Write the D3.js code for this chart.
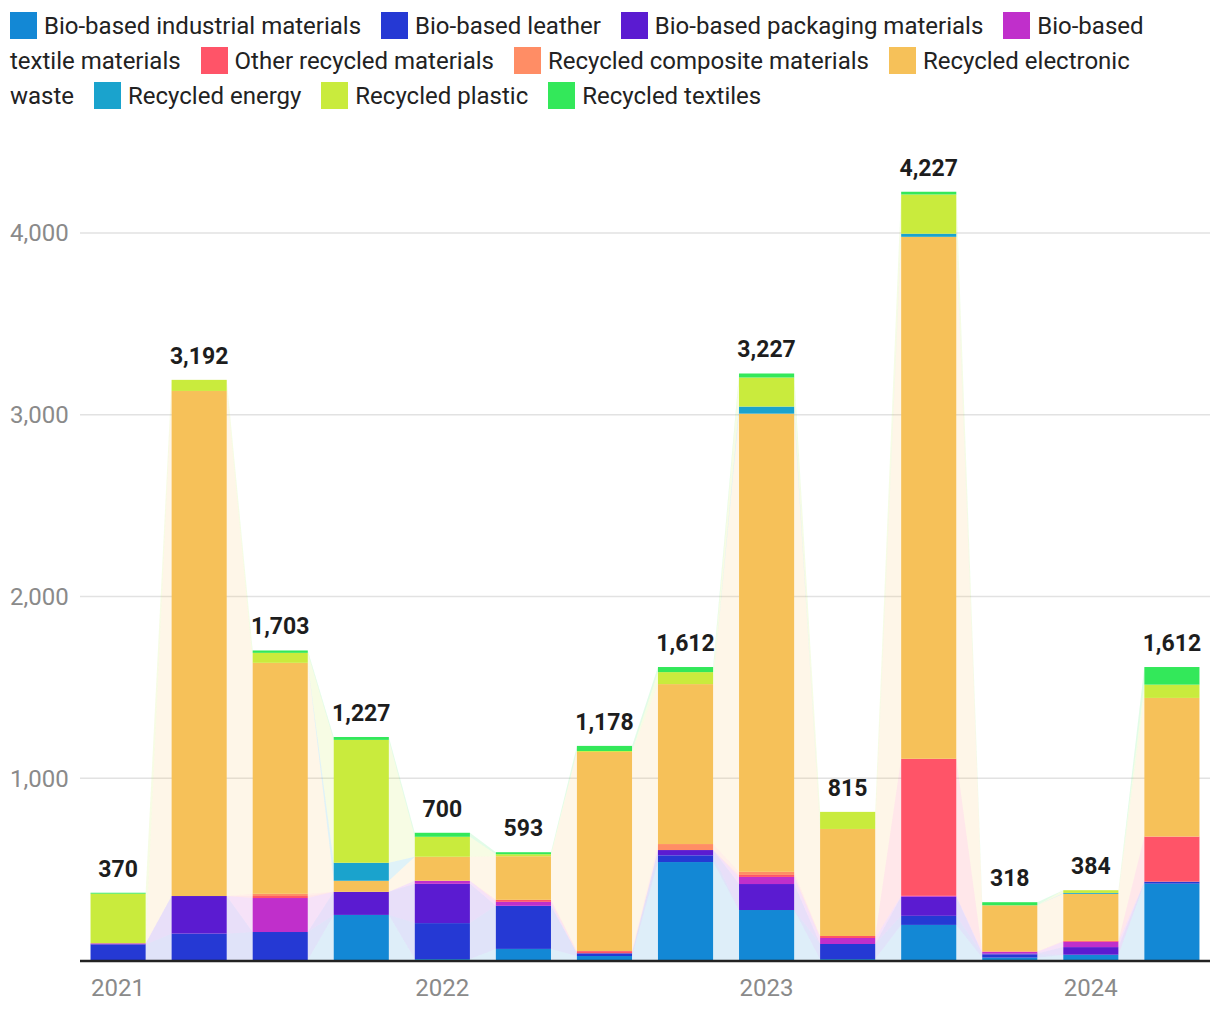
<!DOCTYPE html>
<html>
<head>
<meta charset="utf-8">
<script src="https://cdn.jsdelivr.net/npm/d3@7"></script>
<style>
  html, body { margin: 0; padding: 0; background: #fff; }
  body { width: 1220px; height: 1018px; position: relative; overflow: hidden; font-family: Roboto, "Noto Sans", sans-serif; }
  #legend { position: absolute; left: 10px; top: 9px; width: 1180px; font-size: 24px; line-height: 35px; color: #222; }
  #legend .item { margin-right: 14px; }
  #legend .lead { white-space: nowrap; }
  #legend .sw { display: inline-block; width: 27px; height: 27px; vertical-align: -5px; margin-right: 7px; }
  svg { position: absolute; left: 0; top: 0; }
</style>
</head>
<body>
<div id="legend"></div>
<svg id="chart" width="1220" height="1018"></svg>
<script>
const periods = ["2021 Q1","2021 Q2","2021 Q3","2021 Q4","2022 Q1","2022 Q2","2022 Q3","2022 Q4","2023 Q1","2023 Q2","2023 Q3","2023 Q4","2024 Q1","2024 Q2"];
const periodLabels = ["2021","","","","2022","","","","2023","","","","2024",""];
const seriesNames = ["Bio-based industrial materials","Bio-based leather","Bio-based packaging materials","Bio-based textile materials","Other recycled materials","Recycled composite materials","Recycled electronic waste","Recycled energy","Recycled plastic","Recycled textiles"];
const seriesColors = ["#1388d5","#2539d4","#5b1bd1","#c02fcb","#ff5468","#ff8d65","#f6c159","#1aa3cd","#c9eb3d","#33e85a"];

const bioIndustrial   = [0,   0,   0,   248, 5,   61,  22,  539, 275, 5,   193, 13,  29,  420];
const bioLeather      = [85,  145, 154, 0,   198, 237, 15,  37,  0,   83,  50,  18,  0,   11];
const bioPackaging    = [3,   207, 0,   127, 216, 0,   0,   29,  143, 0,   105, 5,   42,  0];
const bioTextile      = [4,   0,   187, 0,   17,  22,  0,   0,   39,  33,  5,   8,   29,  0];
const otherRecycled   = [0,   0,   11,  0,   0,   11,  12,  0,   11,  11,  754, 3,   5,   248];
const recComposite    = [0,   0,   12,  0,   0,   0,   0,   33,  17,  0,   0,   0,   0,   0];
const recElectronic   = [0,   2779,1271,61,  132, 240, 1096,880, 2521,589, 2872,254, 259, 763];
const recEnergy       = [0,   0,   0,   99,  0,   0,   0,   0,   39,  0,   17,  0,   5,   0];
const recPlastic      = [273, 61,  55,  676, 110, 11,  5,   66,  160, 94,  216, 0,   15,  73];
const recTextiles     = [5,   0,   13,  16,  22,  11,  28,  28,  22,  0,   15,  17,  0,   97];
const totals          = [370, 3192,1703,1227,700, 593, 1178,1612,3227,815, 4227,318, 384, 1612];
const yTicks = [1000, 2000, 3000, 4000];

const seriesValues = [bioIndustrial, bioLeather, bioPackaging, bioTextile, otherRecycled, recComposite, recElectronic, recEnergy, recPlastic, recTextiles];

// legend (word-level spans so wrapped labels flow like the reference)
const legend = d3.select("#legend");
seriesNames.forEach((n, i) => {
  const it = legend.append("span").attr("class", "item");
  const words = n.split(" ");
  const lead = it.append("span").attr("class", "lead");
  lead.append("span").attr("class", "sw").style("background", seriesColors[i]);
  lead.append("span").text(words[0]);
  words.slice(1).forEach(w => {
    it.node().appendChild(document.createTextNode(" "));
    it.append("span").text(w);
  });
  legend.node().appendChild(document.createTextNode(" "));
});

const rows = periods.map((p, i) => {
  const o = { period: p };
  seriesNames.forEach((n, k) => o[n] = seriesValues[k][i]);
  return o;
});
const stacked = d3.stack().keys(seriesNames)(rows);

const svg = d3.select("#chart");
const x = d3.scaleBand().domain(periods).range([80, 1210]).paddingInner(0.32).paddingOuter(0.13);
const y = d3.scaleLinear().domain([0, 4500]).range([960, 960 - 4500 * 0.18175]);

// gridlines
svg.append("g").selectAll("line").data(yTicks).join("line")
  .attr("x1", 80).attr("x2", 1210)
  .attr("y1", d => y(d)).attr("y2", d => y(d))
  .attr("stroke", "#e2e2e2").attr("stroke-width", 1.5);
svg.append("g").selectAll("text").data(yTicks).join("text")
  .attr("x", 10).attr("y", d => y(d)).attr("dy", "0.35em")
  .attr("font-size", 24).attr("fill", "#8a8a8a")
  .text(d => d3.format(",")(d));

// connecting areas
const areaG = svg.append("g");
stacked.forEach((s, k) => {
  for (let i = 0; i < periods.length - 1; i++) {
    const a = s[i], b = s[i + 1];
    const xa = x(periods[i]) + x.bandwidth(), xb = x(periods[i + 1]);
    const pts = [[xa, y(a[1])], [xb, y(b[1])], [xb, y(b[0])], [xa, y(a[0])]];
    areaG.append("path")
      .attr("d", d3.line()(pts) + "Z")
      .attr("fill", seriesColors[k]).attr("fill-opacity", 0.14);
  }
});

// bars
const barG = svg.append("g");
stacked.forEach((s, k) => {
  barG.append("g").attr("fill", seriesColors[k]).selectAll("rect").data(s).join("rect")
    .attr("x", d => x(d.data.period))
    .attr("width", x.bandwidth())
    .attr("y", d => y(d[1]))
    .attr("height", d => Math.max(0, y(d[0]) - y(d[1])));
});

// axis line
svg.append("line").attr("x1", 80).attr("x2", 1210).attr("y1", 961).attr("y2", 961)
  .attr("stroke", "#222").attr("stroke-width", 2.5);

// x labels
svg.append("g").selectAll("text").data(periods).join("text")
  .attr("x", d => x(d) + x.bandwidth() / 2).attr("y", 996)
  .attr("text-anchor", "middle").attr("font-size", 24).attr("fill", "#8a8a8a")
  .text((d, i) => periodLabels[i]);

// total labels
svg.append("g").selectAll("text").data(periods).join("text")
  .attr("x", d => x(d) + x.bandwidth() / 2)
  .attr("y", (d, i) => y(totals[i]) - 16)
  .attr("text-anchor", "middle").attr("font-size", 23).attr("font-weight", "bold").attr("fill", "#1d1d1d")
  .text((d, i) => d3.format(",")(totals[i]));
</script>
</body>
</html>
